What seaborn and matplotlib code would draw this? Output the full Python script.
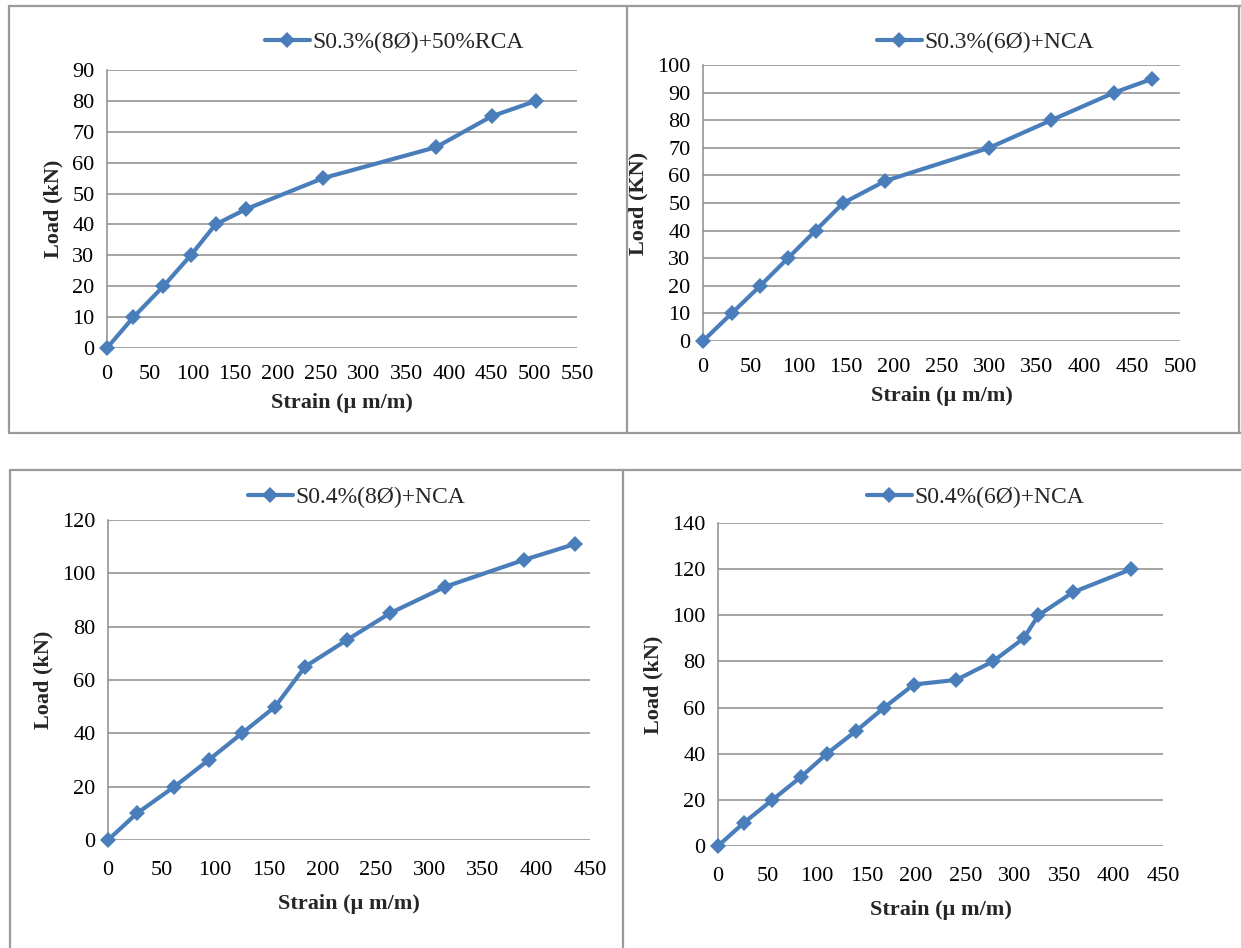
import matplotlib
matplotlib.use("Agg")
import matplotlib.pyplot as plt
import seaborn as sns
import pandas as pd
from matplotlib.lines import Line2D

# ---- data ----
strain_a = [0, 31, 66, 98, 127, 163, 253, 385, 450, 502]
load_a = [0, 10, 20, 30, 40, 45, 55, 65, 75, 80]
label_a = "S0.3%(8Ø)+50%RCA"

strain_b = [0, 30, 60, 89, 118, 147, 191, 300, 365, 431, 471]
load_b = [0, 10, 20, 30, 40, 50, 58, 70, 80, 90, 95]
label_b = "S0.3%(6Ø)+NCA"

strain_c = [0, 27, 62, 94, 125, 156, 184, 223, 263, 315, 388, 436]
load_c = [0, 10, 20, 30, 40, 50, 65, 75, 85, 95, 105, 111]
label_c = "S0.4%(8Ø)+NCA"

strain_d = [0, 26, 55, 84, 110, 140, 168, 198, 241, 278, 309, 324, 359, 418]
load_d = [0, 10, 20, 30, 40, 50, 60, 70, 72, 80, 90, 100, 110, 120]
label_d = "S0.4%(6Ø)+NCA"

x_label = "Strain (µ m/m)"
y_labels = ["Load (kN)", "Load (KN)", "Load (kN)", "Load (kN)"]

sns.set_theme(style="white")
plt.rcParams["font.family"] = ["Liberation Serif", "DejaVu Serif"]

W, H = 1241, 948
fig = plt.figure(figsize=(W / 100, H / 100), dpi=100)
fig.patch.set_facecolor("white")

BLUE = "#4a7ebb"
GRID = "#8c8c8c"

def px_rect(l, r, b, t):
    return [l / W, 1 - b / H, (r - l) / W, (b - t) / H]

panels = [
    dict(sx=strain_a, ly=load_a, lab=label_a, rect=px_rect(107, 577, 348, 70),
         xmax=550, xstep=50, ymax=90, ystep=10, leg=(265, 42), xpad=12, lpad=7),
    dict(sx=strain_b, ly=load_b, lab=label_b, rect=px_rect(703, 1180, 341, 65),
         xmax=500, xstep=50, ymax=100, ystep=10, leg=(877, 42), xpad=12, lpad=7),
    dict(sx=strain_c, ly=load_c, lab=label_c, rect=px_rect(108, 590, 840, 520),
         xmax=450, xstep=50, ymax=120, ystep=20, leg=(248, 497), xpad=15, lpad=10),
    dict(sx=strain_d, ly=load_d, lab=label_d, rect=px_rect(718, 1163, 846, 523),
         xmax=450, xstep=50, ymax=140, ystep=20, leg=(867, 497), xpad=15, lpad=10),
]

for i, p in enumerate(panels):
    ax = fig.add_axes(p["rect"])
    df = pd.DataFrame({"strain": p["sx"], "load": p["ly"]})
    sns.lineplot(data=df, x="strain", y="load", ax=ax, sort=False, color=BLUE,
                 linewidth=3.0, marker="D", markersize=8, markeredgewidth=0,
                 markerfacecolor=BLUE, clip_on=False, zorder=5)
    ax.set_xlim(0, p["xmax"])
    ax.set_ylim(0, p["ymax"])
    ax.set_xticks(range(0, p["xmax"] + 1, p["xstep"]))
    ax.set_yticks(range(0, p["ymax"] + 1, p["ystep"]))
    ax.yaxis.grid(True, color=GRID, linewidth=1.1)
    ax.xaxis.grid(False)
    ax.set_axisbelow(True)
    for s in ["top", "right", "bottom"]:
        ax.spines[s].set_visible(False)
    ax.spines["left"].set_color(GRID)
    ax.spines["left"].set_linewidth(1.1)
    ax.tick_params(axis="x", length=0, labelsize=16, colors="black", pad=p["xpad"])
    ax.tick_params(axis="y", length=0, labelsize=16, colors="black", pad=9)
    ax.set_xlabel(x_label, fontsize=16, fontweight="bold", labelpad=p["lpad"])
    ax.set_ylabel(y_labels[i], fontsize=16, fontweight="bold", labelpad=6)
    handle = Line2D([], [], color=BLUE, linewidth=3.0, marker="D", markersize=8,
                    markeredgewidth=0)
    lx, ly = p["leg"]
    fig.legend([handle], [p["lab"]], loc="center left",
               bbox_to_anchor=(lx / W, 1 - ly / H), frameon=False, fontsize=17,
               handlelength=1.9, handletextpad=0.1, borderpad=0, borderaxespad=0)

# panel frames
BORDER = "#9a9a9a"
def hline(y, x0, x1):
    fig.add_artist(Line2D([x0 / W, x1 / W], [1 - y / H, 1 - y / H], color=BORDER, linewidth=1.6))
def vline(x, y0, y1):
    fig.add_artist(Line2D([x / W, x / W], [1 - y0 / H, 1 - y1 / H], color=BORDER, linewidth=1.6))

hline(6, 9, 1241)
hline(433, 9, 1241)
vline(9, 6, 433)
vline(627, 6, 433)
vline(1239, 6, 433)
hline(470, 10, 1241)
vline(10, 470, 948)
vline(623, 470, 948)

fig.savefig("out.png", dpi=100, facecolor="white")
